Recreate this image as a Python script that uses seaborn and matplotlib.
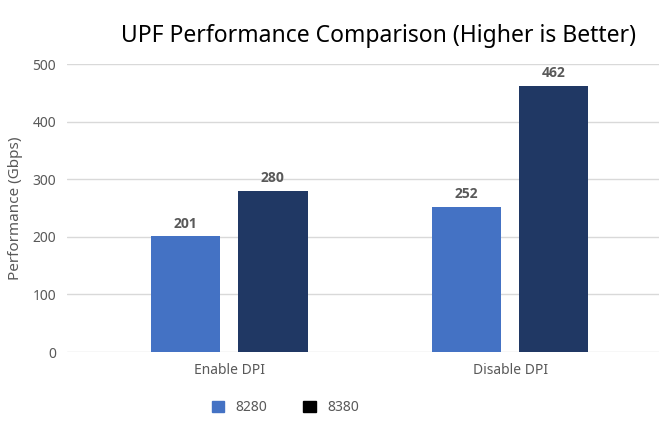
import pandas as pd
import matplotlib.pyplot as plt
import matplotlib.patches as mpatches
import seaborn as sns

categories = ["Enable DPI", "Disable DPI"]
series = ["8280", "8380"]
values_8280 = [201, 252]
values_8380 = [280, 462]
yticks = [0, 100, 200, 300, 400, 500]

bar_colors = ["#4472C4", "#203864"]
legend_colors = ["#4472C4", "#000000"]
text_gray = "#595959"

df = pd.DataFrame({
    "category": categories * 2,
    "cpu": [series[0]] * 2 + [series[1]] * 2,
    "perf": values_8280 + values_8380,
})

sns.set_theme(style="white")
plt.rcParams["font.family"] = ["Noto Sans", "DejaVu Sans"]

fig = plt.figure(figsize=(6.59, 4.24), dpi=100)
ax = fig.add_axes([0.1017, 0.1698, 0.8983, 0.6792])

sns.barplot(data=df, x="category", y="perf", hue="cpu", order=categories,
            hue_order=series, palette=bar_colors, width=0.62, gap=0.2,
            saturation=1, legend=False, linewidth=0, ax=ax)

# value labels above bars
for cont in ax.containers:
    ax.bar_label(cont, padding=4, fontsize=10, fontweight="bold", color=text_gray,
                 family=["Open Sans", "DejaVu Sans"])

ax.set_ylim(0, 500)
ax.set_xlim(-0.577, 1.53)
ax.set_yticks(yticks)
ax.yaxis.grid(True, color="#d9d9d9", linewidth=1)
ax.set_axisbelow(True)
for s in ax.spines.values():
    s.set_visible(False)
ax.tick_params(axis="both", length=0, labelsize=10, colors=text_gray)
ax.tick_params(axis="y", pad=8)
ax.tick_params(axis="x", pad=8)
ax.set_xlabel("")
ax.set_ylabel("Performance (Gbps)", fontsize=11, color=text_gray)
ax.yaxis.set_label_coords(-0.074, 0.5)

fig.text(0.574, 0.915, "UPF Performance Comparison (Higher is Better)",
         ha="center", va="center", fontsize=16.5, color="#000000")

handles = [mpatches.Patch(color=c, label=l) for c, l in zip(legend_colors, series)]
fig.legend(handles=handles, loc="center", bbox_to_anchor=(0.433, 0.038), ncol=2,
           frameon=False, fontsize=10, handlelength=0.9, handleheight=0.9,
           columnspacing=2.6, labelcolor=text_gray)

fig.savefig("out.png", dpi=100)
